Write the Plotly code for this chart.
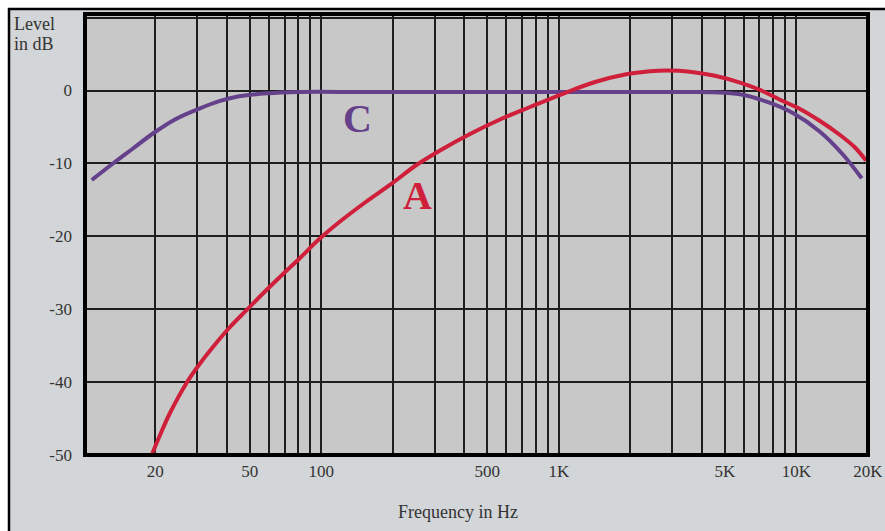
import plotly.graph_objects as go

# ---- data ----
freq_A = [19.32, 20.94, 23.06, 27.12, 30.85, 35.68, 41.27, 48.19, 57.37, 68.32, 81.35, 97.8,
          119.9, 152.8, 199.8, 248.0, 316.1, 422.8, 565.4, 756.5, 1072, 1421, 1900, 2421,
          2855, 3568, 4547, 5795, 7035, 8538, 10367, 12585, 15281, 17671, 19661]
db_A = [-50.0, -47.26, -44.24, -40.08, -37.45, -34.84, -32.44, -30.20, -27.71, -25.31, -22.97, -20.41,
        -17.97, -15.36, -12.68, -10.35, -8.22, -5.96, -3.97, -2.26, -0.27, 1.17, 2.20, 2.65,
        2.75, 2.59, 2.02, 1.08, 0.08, -1.26, -2.53, -4.18, -6.10, -7.81, -9.60]

freq_C = [10.80, 13.31, 16.11, 19.62, 24.21, 30.85, 37.45, 44.03, 58.89, 81.35, 150, 300,
          1000, 2000, 3500, 4472, 5795, 7506, 9716, 12585, 15777, 18858]
db_C = [-12.27, -9.98, -7.95, -5.86, -3.97, -2.44, -1.43, -0.84, -0.38, -0.20, -0.20, -0.20,
        -0.20, -0.20, -0.20, -0.24, -0.51, -1.53, -3.12, -5.65, -8.84, -12.04]

grid_freqs = [20, 30, 40, 50, 60, 70, 80, 90, 100, 200, 300, 400, 500, 600, 700, 800, 900,
              1000, 2000, 3000, 4000, 5000, 6000, 7000, 8000, 9000, 10000, 20000]
freq_labels = {20: "20", 50: "50", 100: "100", 500: "500", 1000: "1K", 5000: "5K",
               10000: "10K", 20000: "20K"}
db_ticks = [-50, -40, -30, -20, -10, 0]

W, H = 885, 531
L, R, T, B = 85, 868, 14, 455
PW, PH = R - L, B - T


def px(x):
    return (x - L) / PW


def py(y):
    return (B - y) / PH


SERIF = "Liberation Serif, Times New Roman, serif"
TXT = "#333333"
RED = "#cf1f3a"
PURPLE = "#65408b"

fig = go.Figure()
fig.add_trace(go.Scatter(x=freq_C, y=db_C, mode="lines",
                         line=dict(color=PURPLE, width=4, shape="spline", smoothing=1.0),
                         hoverinfo="skip", showlegend=False))
fig.add_trace(go.Scatter(x=freq_A, y=db_A, mode="lines",
                         line=dict(color=RED, width=4, shape="spline", smoothing=1.0),
                         hoverinfo="skip", showlegend=False))

fig.update_layout(
    width=W, height=H, autosize=False,
    margin=dict(l=L, r=W - R, t=T, b=H - B, pad=0, autoexpand=False),
    paper_bgcolor="white",
    plot_bgcolor="rgba(0,0,0,0)",
    showlegend=False,
    font=dict(family=SERIF, color=TXT, size=17),
    xaxis=dict(type="log", range=[1.005, 4.302], tickvals=grid_freqs,
               ticktext=[freq_labels.get(f, "") for f in grid_freqs], automargin=False,
               showgrid=True, gridcolor="#1e1e1e", gridwidth=1.6, showline=False, zeroline=False,
               ticks="", ticklabelstandoff=4, tickfont=dict(family=SERIF, size=17, color=TXT)),
    yaxis=dict(range=[-50, 10.5], tickvals=db_ticks + [10], ticktext=[str(v) for v in db_ticks] + [""],
               automargin=False,
               showgrid=True, gridcolor="#1e1e1e", gridwidth=1.6, showline=False, zeroline=False,
               ticks="", ticklabelstandoff=12, tickfont=dict(family=SERIF, size=17, color=TXT)),
    shapes=[
        dict(type="rect", xref="paper", yref="paper", x0=px(9), x1=px(895), y0=py(545), y1=py(9),
             fillcolor="#d3d6d8", line=dict(color="black", width=2.5), layer="below"),
        dict(type="rect", xref="paper", yref="paper", x0=0, x1=1, y0=0, y1=1,
             fillcolor="#c8c8c8", line=dict(width=0), layer="below"),
        dict(type="rect", xref="paper", yref="paper", x0=0, x1=1, y0=0, y1=1,
             line=dict(color="black", width=4), layer="above"),
    ],
    annotations=[
        dict(text="Level", xref="paper", yref="paper", x=px(12), y=py(24), xanchor="left", yanchor="middle",
             showarrow=False, font=dict(family=SERIF, size=18, color=TXT)),
        dict(text="in dB", xref="paper", yref="paper", x=px(12), y=py(44), xanchor="left", yanchor="middle",
             showarrow=False, font=dict(family=SERIF, size=18, color=TXT)),
        dict(text="Frequency in Hz", xref="paper", yref="paper", x=px(458), y=py(512), xanchor="center",
             yanchor="middle", showarrow=False, font=dict(family=SERIF, size=18, color=TXT)),
        dict(text="<b>C</b>", x=2.1545, y=-3.77, xref="x", yref="y", showarrow=False,
             font=dict(family=SERIF, size=40, color=PURPLE)),
        dict(text="<b>A</b>", x=2.4059, y=-14.43, xref="x", yref="y", showarrow=False,
             font=dict(family=SERIF, size=40, color=RED)),
    ],
)

fig.write_html("out.html", config={"displayModeBar": False, "responsive": False},
               post_script="document.body.style.margin='0';document.body.style.overflow='hidden';")
